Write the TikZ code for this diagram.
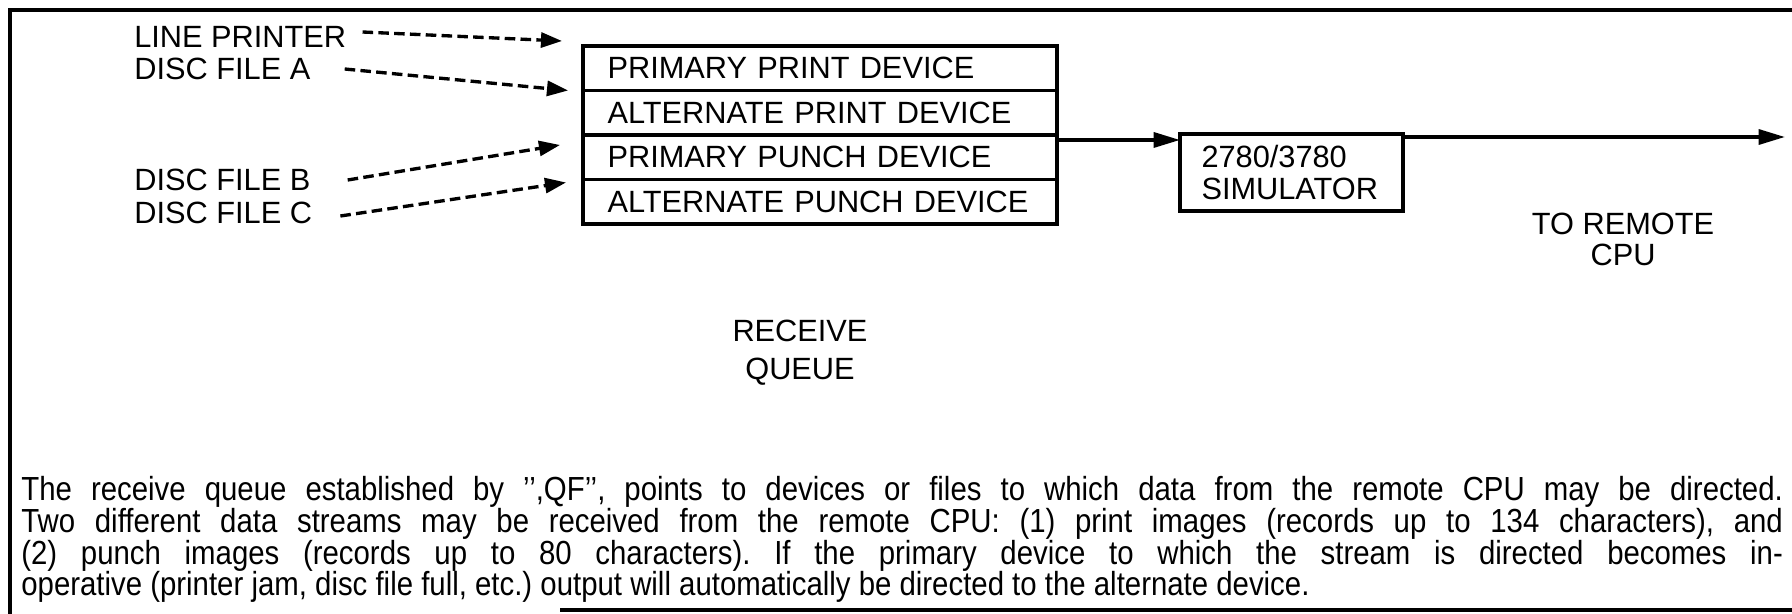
\documentclass[tikz,border=0pt]{standalone}
\usepackage{fontspec}
\setmainfont{Liberation Sans}
\newfontfamily\parafont[FakeStretch=0.88]{Liberation Sans}
\usepackage{tikz}
\usetikzlibrary{positioning, arrows.meta, calc}
\newcommand{\notefont}{\parafont\fontsize{19}{18.1}\selectfont\lineskiplimit=-20pt\relax\frenchspacing}

\tikzset{
    lbl/.style={font=\fontsize{17.5}{21}\selectfont, inner sep=0pt},
    qrow/.style={draw, line width=1.8pt, outer sep=0pt, minimum width=9.48cm, minimum height=0.89cm,
        text width=8.5cm, inner xsep=0.49cm, inner ysep=0pt, align=left, font=\fontsize{17.5}{21}\selectfont},
    simbox/.style={draw, line width=2.4pt, outer sep=0pt, minimum width=4.46cm, minimum height=1.54cm,
        text width=3.6cm, inner xsep=0.43cm, inner ysep=0pt, align=left, font=\fontsize{17.5}{18.2}\selectfont},
    feed/.style={line width=1.9pt, dash pattern=on 6pt off 3pt, -{Triangle[length=12pt, width=8.5pt]}},
    flow/.style={line width=2pt, -{Triangle[length=15pt, width=8.5pt]}},
    frame/.style={line width=2.6pt},
}

\begin{document}
\begin{tikzpicture}[x=0.02cm, y=-0.02cm]
    \useasboundingbox (0,0) rectangle (1792,614);
    % Frame
    \draw[frame] (1792,10) -- (10,10) -- (10,614);
    \draw[frame] (560,610) -- (1792,610);
    % Sources
    \node[lbl, anchor=west] (lp) at (134,37) {LINE PRINTER};
    \node[lbl, anchor=west] (dfa) at (134,69) {DISC FILE A};
    \node[lbl, anchor=west] (dfb) at (134,180) {DISC FILE B};
    \node[lbl, anchor=west] (dfc) at (134,213) {DISC FILE C};
    % Receive queue
    \node[qrow] (r1) at (820,68.25) {PRIMARY PRINT DEVICE};
    \node[qrow, below=0pt of r1] (r2) {ALTERNATE PRINT DEVICE};
    \node[qrow, below=0pt of r2] (r3) {PRIMARY PUNCH DEVICE};
    \node[qrow, below=0pt of r3] (r4) {ALTERNATE PUNCH DEVICE};
    \draw[line width=2.6pt] (r1.north west) rectangle (r4.south east);
    \node[lbl, align=center, font=\fontsize{17.5}{21.5}\selectfont] (rq) at (800,353) {RECEIVE\\QUEUE};
    % Dashed feeds into the queue
    \draw[feed] ($(lp.east)+(16,-5)$) -- ($(r1.north west)+(-21,-5)$);
    \draw[feed] ($(dfa.east)+(34,0)$) -- ($(r2.north west)+(-15,0)$);
    \draw[feed] ($(dfb.east)+(37,0)$) -- ($(r3.north west)+(-23,10)$);
    \draw[feed] ($(dfc.east)+(28,3)$) -- ($(r4.north west)+(-17,3)$);
    % Simulator
    \node[simbox] (sim) at (1291.5,172.5) {2780/3780\\SIMULATOR};
    \coordinate (q) at ($(r3.north east)+(0,5)$);
    \draw[flow] (q) -- (q -| sim.west);
    \coordinate (s) at ($(sim.north east)+(0,3)$);
    \coordinate (remote) at (1785,0);
    \draw[flow] (s) -- (s -| remote);
    \node[lbl, align=center, font=\fontsize{17.5}{17.6}\selectfont] (rc) at (1623,239) {TO REMOTE\\CPU};
    % Note
    \node[inner sep=0pt, anchor=north west, text width=35.24cm, align=justify, font=\notefont] (note) at (21,476)
        {The receive queue established by ’’,QF’’, points to devices or files to which data from the remote CPU may be directed.\linebreak
        Two different data streams may be received from the remote CPU: (1) print images (records up to 134 characters), and\linebreak
        (2) punch images (records up to 80 characters). If the primary device to which the stream is directed becomes in-\linebreak
        operative (printer jam, disc file full, etc.) output will automatically be directed to the alternate device.};
\end{tikzpicture}
\end{document}
